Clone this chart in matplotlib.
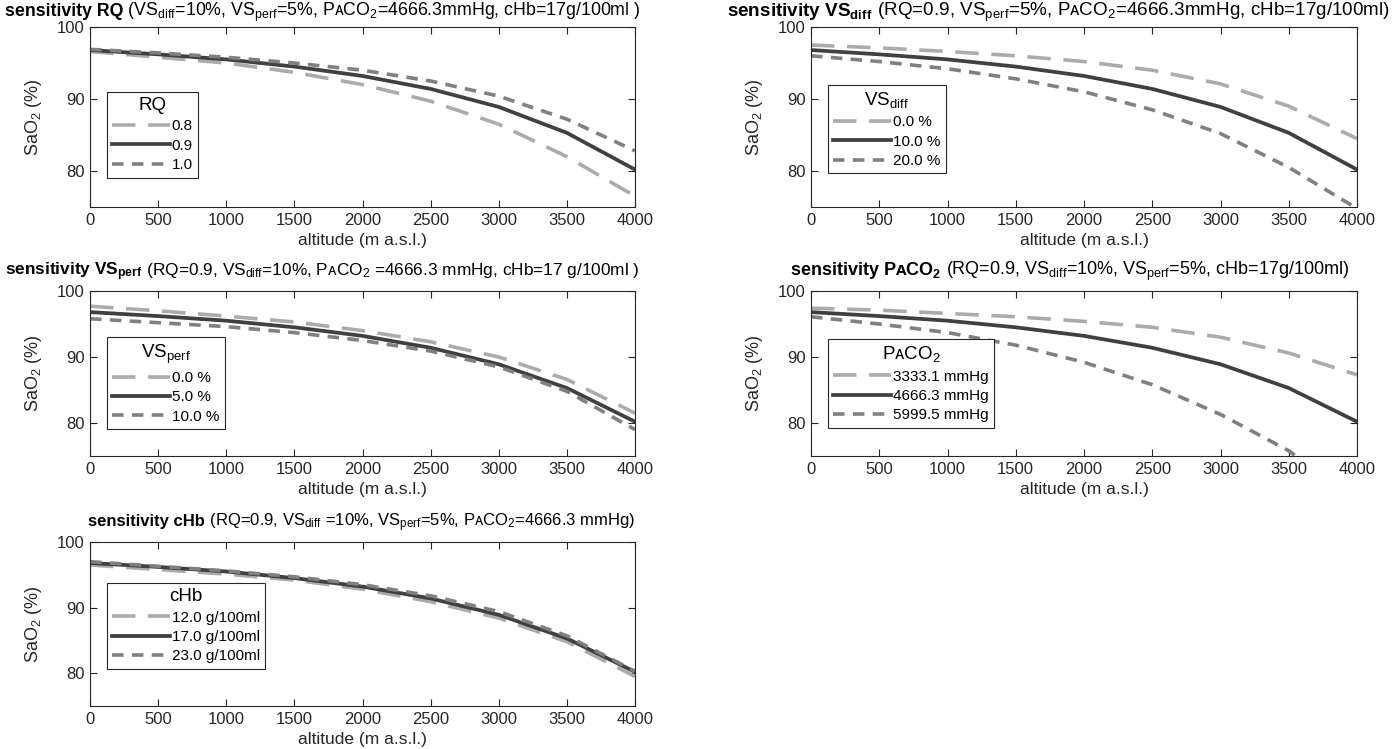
import matplotlib
matplotlib.use('Agg')
import matplotlib.pyplot as plt
import numpy as np

#%% Datos (SaO2 en % vs altitud)

alt = [0, 500, 1000, 1500, 2000, 2500, 3000, 3500, 4000]

base = [96.8, 96.2, 95.5, 94.5, 93.2, 91.4, 88.9, 85.3, 80.2]

rq_08 = [96.6, 95.8, 95.0, 93.7, 92.0, 89.7, 86.5, 82.0, 76.5]
rq_10 = [96.9, 96.4, 95.8, 95.0, 94.0, 92.5, 90.4, 87.2, 82.8]

vsd_00 = [97.5, 97.1, 96.6, 96.0, 95.2, 94.0, 92.1, 89.0, 84.5]
vsd_20 = [96.0, 95.2, 94.2, 92.8, 91.0, 88.5, 85.2, 80.5, 74.8]

vsp_00 = [97.7, 97.0, 96.2, 95.3, 94.0, 92.3, 90.0, 86.6, 81.5]
vsp_10 = [95.8, 95.2, 94.6, 93.7, 92.5, 90.9, 88.5, 84.8, 79.0]

pa_low = [97.4, 97.1, 96.6, 96.1, 95.4, 94.5, 93.0, 90.6, 87.3]
pa_high = [96.1, 95.0, 93.7, 91.8, 89.2, 85.8, 81.3, 75.8, 68.0]

chb_12 = [96.5, 95.8, 95.1, 94.2, 92.8, 90.9, 88.4, 84.8, 79.5]
chb_23 = [97.0, 96.3, 95.6, 94.7, 93.5, 91.8, 89.4, 85.7, 80.3]

rq_lab = ['0.8', '0.9', '1.0']
vsd_lab = ['0.0 %', '10.0 %', '20.0 %']
vsp_lab = ['0.0 %', '5.0 %', '10.0 %']
pa_lab = ['3333.1 mmHg', '4666.3 mmHg', '5999.5 mmHg']
chb_lab = ['12.0 g/100ml', '17.0 g/100ml', '23.0 g/100ml']

#%% Estilo

plt.rcParams['font.family'] = ['Liberation Sans', 'DejaVu Sans']
plt.rcParams['mathtext.fontset'] = 'custom'
plt.rcParams['mathtext.rm'] = 'Liberation Sans'
plt.rcParams['mathtext.bf'] = 'Liberation Sans:bold'
plt.rcParams['mathtext.it'] = 'Liberation Sans:italic'
plt.rcParams['mathtext.default'] = 'regular'

c_light = '#ababab'
c_dark = '#404040'
c_mid = '#808080'
axcol = '#262626'

fig = plt.figure(figsize=(13.97, 7.49), dpi=100)
W, H = 1397.0, 749.0

def px_axes(x0, x1, ytop, ybot):
    return fig.add_axes([x0 / W, 1 - ybot / H, (x1 - x0) / W, (ybot - ytop) / H])

panels = [
    # x0, x1, ytop, ybot, series, labels, legend title, legend anchor
    (90, 635, 27, 207, [rq_08, base, rq_10], rq_lab, 'RQ', (0.031, 0.64)),
    (811, 1357, 27, 207, [vsd_00, base, vsd_20], vsd_lab, 'VS$_{diff}$', (0.031, 0.68)),
    (90, 635, 291, 456, [vsp_00, base, vsp_10], vsp_lab, 'VS$_{perf}$', (0.031, 0.72)),
    (811, 1357, 291, 456, [pa_low, base, pa_high], pa_lab, 'P\u1d00CO$_2$', (0.031, 0.71)),
    (90, 635, 542, 706, [chb_12, base, chb_23], chb_lab, 'cHb', (0.031, 0.75)),
]

styles = [
    dict(color=c_light, lw=2.6, dashes=(6.5, 3.5)),
    dict(color=c_dark, lw=2.7, linestyle='-'),
    dict(color=c_mid, lw=2.6, dashes=(3.2, 2.3)),
]

for x0, x1, yt, yb, series, labs, ltitle, anchor in panels:
    ax = px_axes(x0, x1, yt, yb)
    for s, lab, st in zip(series, labs, styles):
        ax.plot(alt, s, label=lab, **st)
    ax.set_xlim(0, 4000)
    ax.set_ylim(75, 100)
    ax.set_xticks(np.arange(0, 4001, 500))
    ax.set_yticks([80, 90, 100])
    ax.tick_params(direction='in', top=True, right=True, labelsize=12,
                   colors=axcol, length=5, width=0.8, pad=4)
    for sp in ax.spines.values():
        sp.set_color(axcol)
        sp.set_linewidth(0.8)
    ax.set_xlabel('altitude (m a.s.l.)', fontsize=12.5, color=axcol, labelpad=4)
    ax.set_ylabel('SaO$_2$ (%)', fontsize=13, color=axcol, labelpad=9)
    leg = ax.legend(title=ltitle, loc='upper left', bbox_to_anchor=anchor,
                    fontsize=11, title_fontsize=13.5, handlelength=3.8,
                    handletextpad=0.1, labelspacing=0.35, borderpad=0.35,
                    borderaxespad=0, fancybox=False, framealpha=1, edgecolor=axcol)
    leg.get_frame().set_linewidth(0.8)

#%% Titulos (parte en negrita + parte normal), ajustados al ancho del original

titles = [
    ('sensitivity RQ', ' (VS$_{diff}$=10%, VS$_{perf}$=5%, P\u1d00CO$_2$=4666.3mmHg, cHb=17g/100ml )', 5, 640, 16),
    ('sensitivity VS$_{diff}$', ' (RQ=0.9, VS$_{perf}$=5%, P\u1d00CO$_2$=4666.3mmHg, cHb=17g/100ml)', 727, 1390, 16),
    ('sensitivity VS$_{perf}$', ' (RQ=0.9, VS$_{diff}$=10%, P\u1d00CO$_2$ =4666.3 mmHg, cHb=17 g/100ml )', 5, 641, 275),
    ('sensitivity P\u1d00CO$_2$', ' (RQ=0.9, VS$_{diff}$=10%, VS$_{perf}$=5%, cHb=17g/100ml)', 790, 1350, 275),
    ('sensitivity cHb', ' (RQ=0.9, VS$_{diff}$ =10%, VS$_{perf}$=5%, P\u1d00CO$_2$=4666.3 mmHg)', 88, 636, 526),
]

fs0 = 12.5
fig.canvas.draw()
rend = fig.canvas.get_renderer()
for bold, normal, xl, xr, yb in titles:
    tb = fig.text(0, 1 - yb / H, bold, fontsize=fs0, fontweight='bold', va='baseline', ha='left')
    tn = fig.text(0, 1 - yb / H, normal, fontsize=fs0, va='baseline', ha='left')
    wtot = tb.get_window_extent(rend).width + tn.get_window_extent(rend).width
    fs = fs0 * (xr - xl) / wtot
    tb.set_fontsize(fs)
    tn.set_fontsize(fs)
    wb = tb.get_window_extent(rend).width
    tb.set_x(xl / W)
    tn.set_x((xl + wb) / W)

plt.savefig('out.png', dpi=100)
plt.close(fig)
